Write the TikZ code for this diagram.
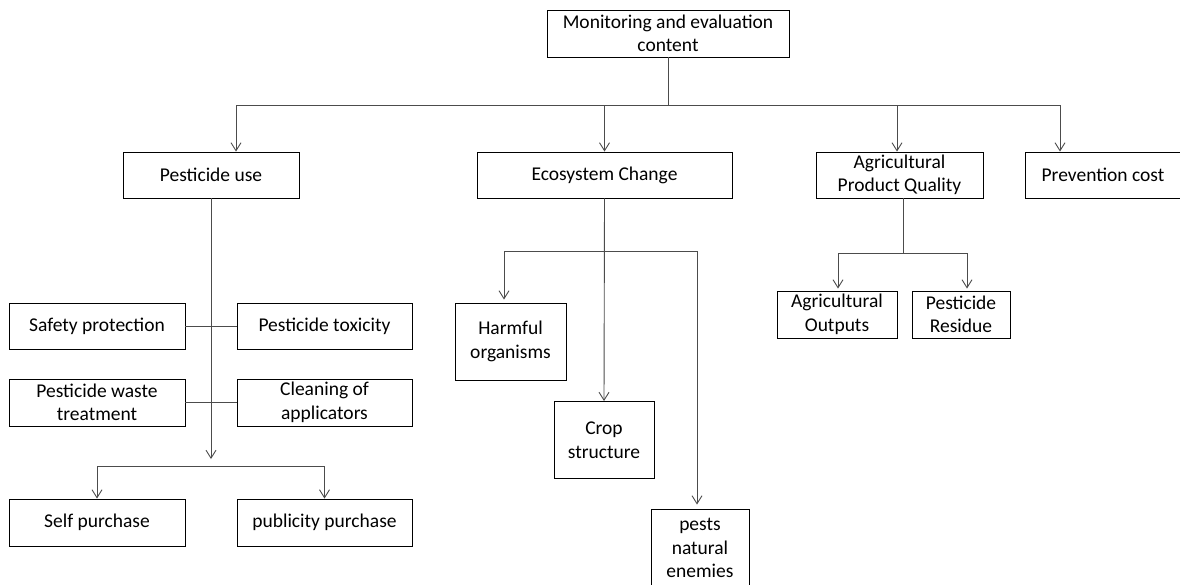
\documentclass[tikz,border=0pt]{standalone}
\usepackage{fontspec}
\setmainfont{Carlito}
\usetikzlibrary{arrows.meta,calc}
\begin{document}
\begin{tikzpicture}[x=1pt,y=-1pt,
  box/.style={draw=black,line width=0.9pt,inner sep=0pt,align=center,
    font=\fontsize{19.5}{23.5}\selectfont,fill=white},
  conn/.style={draw=black!70,line width=0.9pt},
  arr/.style={conn,-{Straight Barb[length=8pt,width=10pt]}}]
\useasboundingbox (0,0) rectangle (1180,584);
% nodes
\node[box,minimum width=242pt,minimum height=47pt] (top) at (668,33.5) {Monitoring and evaluation\\content};
\node[box,minimum width=176pt,minimum height=46pt] (pu) at (211,175) {Pesticide use};
\node[box,minimum width=255pt,minimum height=46pt] (ec) at (604.5,175) {Ecosystem Change};
\node[box,minimum width=167pt,minimum height=46pt] (apq) at (899.5,175) {Agricultural\\Product Quality};
\node[box,minimum width=156pt,minimum height=46pt] (pc) at (1103,175) {Prevention cost};
\node[box,minimum width=176pt,minimum height=46pt] (sp) at (97,326) {Safety protection};
\node[box,minimum width=175pt,minimum height=46pt] (pt) at (324.5,326) {Pesticide toxicity};
\node[box,minimum width=176pt,minimum height=47pt] (pwt) at (97,402.5) {Pesticide waste\\treatment};
\node[box,minimum width=175pt,minimum height=47pt] (ca) at (324.5,402.5) {Cleaning of\\applicators};
\node[box,minimum width=176pt,minimum height=47pt] (self) at (97,522.5) {Self purchase};
\node[box,minimum width=175pt,minimum height=47pt] (pub) at (324.5,522.5) {publicity purchase};
\node[box,minimum width=111pt,minimum height=77pt] (harm) at (510.5,341.5) {Harmful\\organisms};
\node[box,minimum width=100pt,minimum height=77pt] (crop) at (604,440) {Crop\\structure};
\node[box,minimum width=98pt,minimum height=78pt] (pests) at (700,548) {pests\\natural\\enemies};
\node[box,minimum width=120pt,minimum height=47pt] (ao) at (837,314.5) {Agricultural\\Outputs};
\node[box,minimum width=98pt,minimum height=47pt] (pr) at (961,314.5) {Pesticide\\Residue};
% junctions
\coordinate (j1) at (668,105);
\coordinate (pend) at (211,459);
\coordinate (pj) at (211,466);
\coordinate (ej) at (604,251);
\coordinate (aj) at (903,253);
% connectors
\draw[conn] (top.south) -- (j1);
\draw[arr] (j1) -| ([xshift=25pt]pu.north);
\draw[arr] (j1) -| (ec.north);
\draw[arr] (j1) -| ([xshift=-2.5pt]apq.north);
\draw[arr] (j1) -| ([xshift=-43pt]pc.north);
\draw[arr] (pu.south) -- (pend);
\draw[conn] (sp.east) -- (pt.west);
\draw[conn] (pwt.east) -- (ca.west);
\draw[arr] (pj) -| (self.north);
\draw[arr] (pj) -| (pub.north);
\draw[arr] (ec.south) -- (crop.north);
\draw[arr,shorten >=3pt] (ej) -| ([xshift=-6.5pt]harm.north);
\draw[arr,shorten >=4pt] (ej) -| ([xshift=-3pt]pests.north);
\draw[conn] (apq.south -| aj) -- (aj);
\draw[arr,shorten >=2pt] (aj) -| ([xshift=1pt]ao.north);
\draw[arr,shorten >=2pt] (aj) -| ([xshift=6pt]pr.north);
\end{tikzpicture}
\end{document}
